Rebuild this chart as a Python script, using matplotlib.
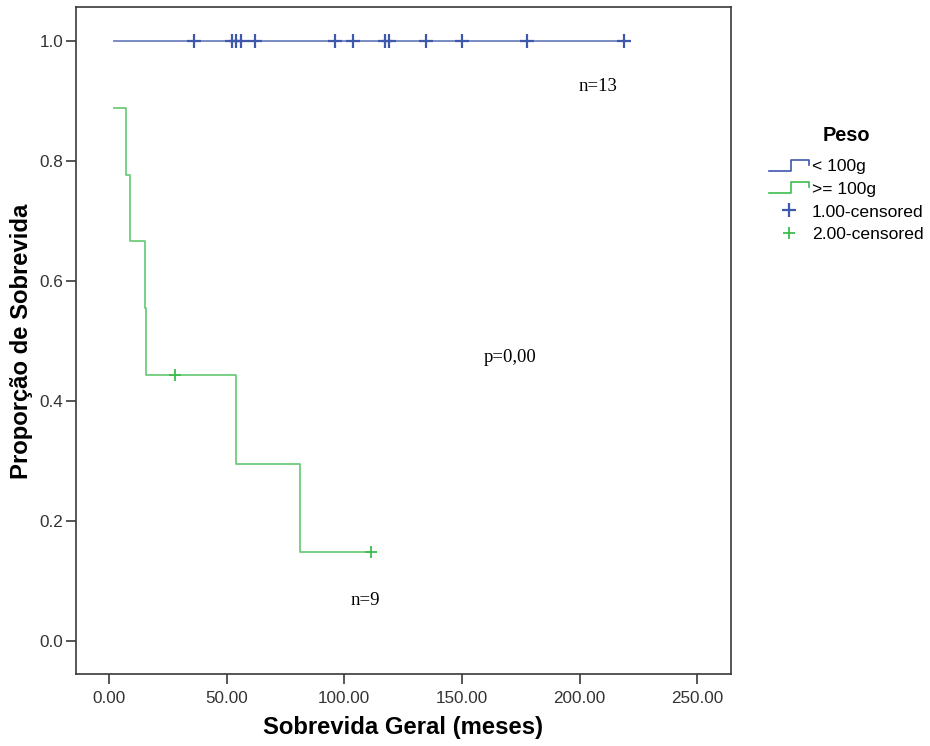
#Kaplan-Meier curves for Peso groups
#step lines + censored marks, legend outside on the right
import numpy as np
import matplotlib
matplotlib.use('Agg')
import matplotlib.pyplot as plt
from matplotlib.lines import Line2D
from matplotlib.legend_handler import HandlerBase

# group 1: < 100g  (all censored)
times_lt100 = [36.1, 52.1, 54.0, 56.0, 61.9, 96.1, 103.9, 117.5, 118.9, 134.9, 149.9, 177.7, 218.9]
events_lt100 = [0, 0, 0, 0, 0, 0, 0, 0, 0, 0, 0, 0, 0]
# group 2: >= 100g
times_ge100 = [2.1, 7.1, 9.1, 15.2, 15.9, 28.0, 54.0, 81.0, 111.2]
events_ge100 = [1, 1, 1, 1, 1, 0, 1, 1, 0]

group_labels = ['< 100g', '>= 100g']
censor_labels = ['1.00-censored', '2.00-censored']
x_ticks = [0, 50, 100, 150, 200, 250]
y_ticks = [0.0, 0.2, 0.4, 0.6, 0.8, 1.0]

blue = '#3e58ac'
green = '#3ebb4e'


def km(times, events):
    order = np.argsort(times, kind='stable')
    t = np.asarray(times, dtype=float)[order]
    e = np.asarray(events)[order]
    n = len(t)
    s = 1.0
    ys = []
    for i, ei in enumerate(e):
        if ei:
            s *= (n - i - 1) / (n - i)
        ys.append(s)
    return t, np.array(ys), e


class StepHandler(HandlerBase):
    def create_artists(self, legend, orig_handle, xdescent, ydescent,
                       width, height, fontsize, trans):
        xs = [0.0, 0.54, 0.54, 1.0, 1.0]
        ys = [0.05, 0.05, 0.95, 0.95, 0.55]
        ln = Line2D([x * width - xdescent for x in xs],
                    [y * height - ydescent for y in ys],
                    color=orig_handle.get_color(), lw=1.2)
        ln.set_transform(trans)
        return [ln]


fig = plt.figure(figsize=(9.3, 7.46), dpi=100)
ax = fig.add_axes([0.0817, 0.0965, 0.704, 0.8937])

t0 = min(min(times_lt100), min(times_ge100))
line_handles = []
mark_handles = []
for times, events, col, lab, clab, ms, mew in [
        (times_lt100, events_lt100, blue, group_labels[0], censor_labels[0], 10, 1.6),
        (times_ge100, events_ge100, green, group_labels[1], censor_labels[1], 9, 1.3)]:
    t, s, e = km(times, events)
    xs, ys = t, s
    if t[0] > t0:
        xs = np.r_[t0, t]
        ys = np.r_[1.0, s]
    h, = ax.step(xs, ys, where='post', color=col, lw=1.3, alpha=0.75, label=lab)
    line_handles.append(h)
    cens = e == 0
    m, = ax.plot(t[cens], s[cens], ls='none', marker='+', color=col,
                 ms=ms, mew=mew, label=clab)
    mark_handles.append(m)

ax.set_xlim(-14.0, 264.2)
ax.set_ylim(-0.0545, 1.0567)
ax.set_xticks(x_ticks)
ax.set_xticklabels(['%.2f' % v for v in x_ticks])
ax.set_yticks(y_ticks)
ax.set_yticklabels(['%.1f' % v for v in y_ticks])

sans = 'Liberation Sans'
for sp in ax.spines.values():
    sp.set_color('#3a3a3a')
    sp.set_linewidth(1.2)
ax.tick_params(axis='both', direction='out', length=7, width=1.2, color='#3a3a3a',
               labelsize=12.3, labelcolor='#333333')
ax.tick_params(axis='x', pad=5)
ax.tick_params(axis='y', pad=2)
for lbl in ax.get_xticklabels() + ax.get_yticklabels():
    lbl.set_family(sans)

ax.set_xlabel('Sobrevida Geral (meses)', fontsize=17.2, fontweight='bold', family=sans,
              va='center')
ax.set_ylabel('Proporção de Sobrevida', fontsize=17.2, fontweight='bold', family=sans,
              va='center')
ax.xaxis.set_label_coords(0.4995, -0.0795)
ax.yaxis.set_label_coords(-0.0825, 0.4995)

serif = 'Liberation Serif'
ax.text(207.6, 0.925, 'n=13', fontsize=13.5, family=serif, ha='center', va='center')
ax.text(170.3, 0.473, 'p=0,00', fontsize=13.5, family=serif, ha='center', va='center')
ax.text(108.9, 0.068, 'n=9', fontsize=13.5, family=serif, ha='center', va='center')

leg = fig.legend(line_handles + mark_handles,
                 group_labels + censor_labels,
                 loc='upper left', bbox_to_anchor=(0.8175, 0.8425),
                 frameon=False, borderpad=0, handlelength=2.3,
                 handletextpad=0.15, labelspacing=0.42,
                 handler_map={line_handles[0]: StepHandler(),
                              line_handles[1]: StepHandler()},
                 prop={'family': sans, 'size': 12.6},
                 title='Peso',
                 title_fontproperties={'family': sans, 'size': 14.3, 'weight': 'bold'})
leg._legend_box.sep = 10
for h in leg.legend_handles:
    if isinstance(h, Line2D):
        h.set_alpha(1.0)

fig.savefig('out.png', dpi=100)
